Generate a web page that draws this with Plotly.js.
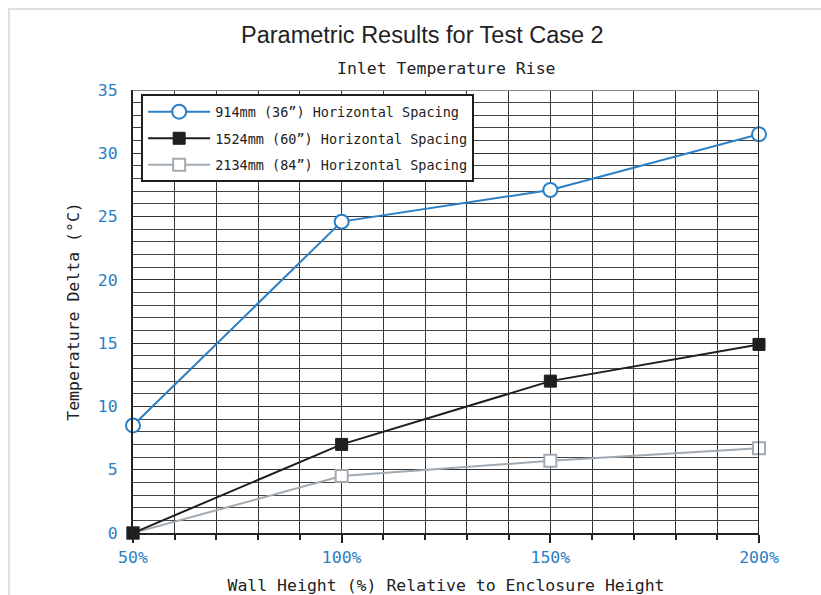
<!DOCTYPE html>
<html>
<head>
<meta charset="utf-8">
<script src="https://cdn.plot.ly/plotly-3.0.1.min.js"></script>
<style>
html,body{margin:0;padding:0;background:#fff;}
#frame{position:absolute;left:8px;top:8px;width:830px;height:600px;border-top:2px solid #e0e0e0;border-left:2px solid #e0e0e0;pointer-events:none;}
#chart{position:absolute;left:0;top:0;width:821px;height:595px;}
</style>
</head>
<body>
<div id="chart"></div>
<div id="frame"></div>
<script>
const wallHeight = [50, 100, 150, 200];
const spacing914 = [8.5, 24.6, 27.1, 31.5];
const spacing1524 = [0, 7.0, 12.0, 14.9];
const spacing2134 = [0, 4.5, 5.7, 6.7];
const seriesNames = ['914mm (36”) Horizontal Spacing', '1524mm (60”) Horizontal Spacing', '2134mm (84”) Horizontal Spacing'];

const mono = 'DejaVu Sans Mono, Liberation Mono, monospace';
const blue = '#2b7fc4';

const traces = [
  {x: wallHeight, y: spacing914, name: seriesNames[0], legendgroup: 'a', legendrank: 1, mode: 'lines+markers', cliponaxis: false,
   line: {color: blue, width: 2},
   marker: {symbol: 'circle', size: 14, color: '#ffffff', line: {color: blue, width: 2}}},
  {x: wallHeight, y: spacing2134, name: seriesNames[2], legendgroup: 'c', legendrank: 3, mode: 'lines+markers', cliponaxis: false,
   line: {color: '#a2abb2', width: 2},
   marker: {symbol: 'square', size: 12, color: '#ffffff', line: {color: '#a2abb2', width: 2}}},
  {x: wallHeight, y: spacing1524, name: seriesNames[1], legendgroup: 'b', legendrank: 2, mode: 'lines+markers', cliponaxis: false,
   line: {color: '#1e1e1e', width: 2},
   marker: {symbol: 'square', size: 12, color: '#1e1e1e', line: {color: '#1e1e1e', width: 1}}}
];

const layout = {
  width: 821, height: 595,
  margin: {l: 133, r: 62, t: 90, b: 62},
  paper_bgcolor: '#ffffff', plot_bgcolor: '#ffffff',
  font: {family: mono, color: '#222'},
  showlegend: true,
  legend: {x: 0.013, y: 0.99, xanchor: 'left', yanchor: 'top', traceorder: 'grouped',
    bgcolor: '#ffffff', bordercolor: '#1e1e1e', borderwidth: 2,
    font: {family: mono, size: 13.5, color: '#222'}, tracegroupgap: 6, itemwidth: 62},
  xaxis: {range: [50, 200], tick0: 50, dtick: 50, ticksuffix: '%',
    showgrid: true, gridcolor: '#333', gridwidth: 1,
    minor: {dtick: 10, showgrid: true, gridcolor: '#333', gridwidth: 1, ticks: 'outside', ticklen: 5, tickcolor: '#222'},
    ticks: 'outside', ticklen: 8, tickwidth: 2, tickcolor: '#222',
    showline: true, linecolor: '#222', linewidth: 2, zeroline: false,
    tickfont: {family: mono, size: 16.5, color: blue},
    title: {text: 'Wall Height (%) Relative to Enclosure Height', font: {family: mono, size: 16.5, color: '#222'}, standoff: 20}},
  yaxis: {range: [0, 35], tick0: 0, dtick: 5,
    showgrid: true, gridcolor: '#333', gridwidth: 1,
    minor: {dtick: 1, showgrid: true, gridcolor: '#444', gridwidth: 1},
    ticks: '', ticklabelstandoff: 10,
    showline: true, linecolor: '#222', linewidth: 2, zeroline: false, mirror: false,
    tickfont: {family: mono, size: 16.5, color: blue},
    title: {text: 'Temperature Delta (°C)', font: {family: mono, size: 16.5, color: '#222'}, standoff: 14}},
  shapes: [
    {type: 'line', xref: 'x', yref: 'paper', x0: 200, x1: 200, y0: 0, y1: 1, line: {color: '#222', width: 2}},
    {type: 'line', xref: 'paper', yref: 'y', x0: 0, x1: 1, y0: 35, y1: 35, line: {color: '#888', width: 2}}
  ],
  annotations: [
    {text: 'Parametric Results for Test Case 2', xref: 'paper', yref: 'paper', x: 0.462, y: 1, yshift: 55,
     xanchor: 'center', yanchor: 'middle', showarrow: false,
     font: {family: 'Liberation Sans, Arial, sans-serif', size: 23.5, color: '#222'}},
    {text: 'Inlet Temperature Rise', xref: 'paper', yref: 'paper', x: 0.5, y: 1, yshift: 22,
     xanchor: 'center', yanchor: 'middle', showarrow: false,
     font: {family: mono, size: 16.5, color: '#222'}}
  ]
};

Plotly.newPlot('chart', traces, layout, {displayModeBar: false, staticPlot: true});
</script>
</body>
</html>
